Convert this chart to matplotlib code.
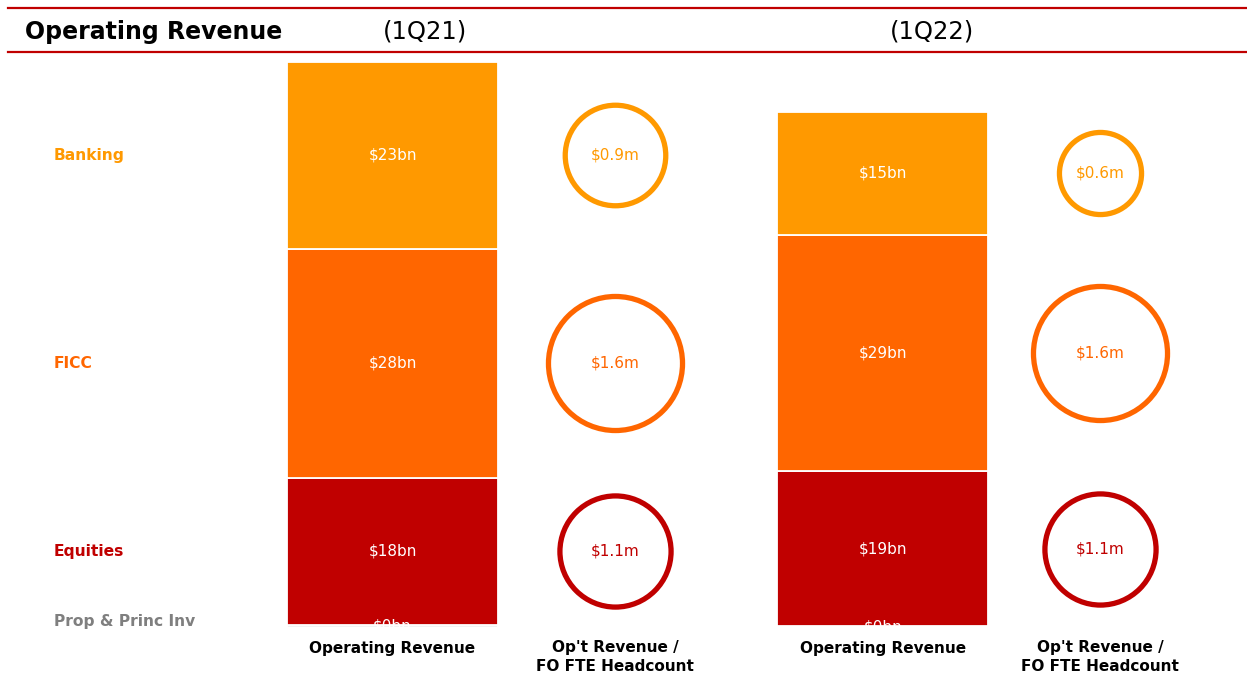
import numpy as np
import matplotlib.pyplot as plt
from matplotlib.lines import Line2D
from matplotlib.transforms import blended_transform_factory

# Data
quarters = ['(1Q21)', '(1Q22)']
segments = ['Prop & Princ Inv', 'Equities', 'FICC', 'Banking']
seg_colors = ['#7F7F7F', '#C00000', '#FF6600', '#FF9900']
revenue_1q21 = [0.3, 18, 28, 23]     # $bn, bottom to top
revenue_1q22 = [0.1, 19, 29, 15]
per_head_1q21 = [None, 1.1, 1.6, 0.9]  # $m per FO FTE
per_head_1q22 = [None, 1.1, 1.6, 0.6]

RED = '#C00000'
W, H = 1247, 677

fig = plt.figure(figsize=(W / 100, H / 100), dpi=100)
ax = fig.add_axes([0, 0, 1, 1])
ax.set_xlim(-1.764, 3.840)
ax.set_ylim(-6.12, 76.84)
ax.axis('off')

bar_x = [0, 2.204]
circle_x = [1.0, 3.18]
revenues = [revenue_1q21, revenue_1q22]
per_heads = [per_head_1q21, per_head_1q22]

for bx, cx, rev, ph in zip(bar_x, circle_x, revenues, per_heads):
    bottoms = np.concatenate([[0], np.cumsum(rev)[:-1]])
    ax.bar(bx, rev, width=0.948, bottom=bottoms, color=seg_colors,
           edgecolor='white', linewidth=1.3, zorder=2)
    for val, bot, col, m in zip(rev, bottoms, seg_colors, ph):
        mid = bot + val / 2
        ax.text(bx, mid, f'${val:.0f}bn', color='white', fontsize=11,
                ha='center', va='center', zorder=3)
        if m is None:
            continue
        # circle area proportional to revenue per head
        ax.scatter(cx, mid, s=5822 * m, facecolor='white', edgecolor=col,
                   linewidth=3.8, zorder=2)
        ax.text(cx, mid, f'${m:.1f}m', color=col, fontsize=11,
                ha='center', va='center', zorder=3)

# Row labels, aligned with the 1Q21 segments
row_tr = blended_transform_factory(ax.transAxes, ax.transData)
bottoms = np.concatenate([[0], np.cumsum(revenue_1q21)[:-1]])
for name, val, bot, col in zip(segments, revenue_1q21, bottoms, seg_colors):
    y = bot + val / 2
    if name == 'Prop & Princ Inv':
        y += 0.5
    ax.text(54 / W, y, name, color=col, fontsize=11.2, fontweight='bold',
            ha='left', va='center', transform=row_tr)

# Axis labels under the columns
lab_tr = blended_transform_factory(ax.transData, ax.transAxes)
for bx, cx in zip(bar_x, circle_x):
    ax.text(bx, 1 - 649 / H, 'Operating Revenue', fontsize=11,
            fontweight='bold', ha='center', va='center', transform=lab_tr)
    ax.text(cx, 1 - 657 / H, "Op't Revenue /\nFO FTE Headcount", fontsize=11,
            fontweight='bold', ha='center', va='center', linespacing=1.4,
            transform=lab_tr)

# Header
for ypx in [8, 52]:
    fig.add_artist(Line2D([8 / W, 1], [1 - ypx / H] * 2, color=RED, lw=1.6))
fig.text(25 / W, 1 - 32 / H, 'Operating Revenue', fontsize=17,
         fontweight='bold', va='center')
for q, xpx in zip(quarters, [425, 932]):
    fig.text(xpx / W, 1 - 32 / H, q, fontsize=17.5, ha='center', va='center')

fig.savefig('out.png', dpi=100)
